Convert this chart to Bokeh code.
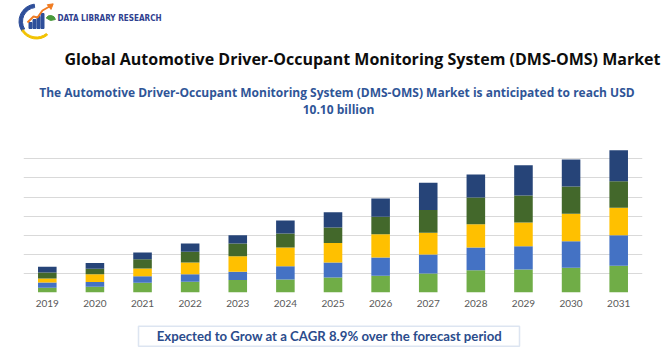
from bokeh.plotting import figure
from bokeh.layouts import column, row
from bokeh.models import Range1d, Label, BoxAnnotation, SingleIntervalTicker, ColumnDataSource
from bokeh.embed import file_html
from bokeh.resources import INLINE

# ---------------- data ----------------
years = ["2019", "2020", "2021", "2022", "2023", "2024", "2025",
         "2026", "2027", "2028", "2029", "2030", "2031"]
seg_green = [0.33, 0.40, 0.69, 0.76, 0.88, 0.92, 1.06, 1.18, 1.35, 1.58, 1.63, 1.75, 1.89]
seg_blue = [0.38, 0.35, 0.47, 0.54, 0.59, 0.95, 1.06, 1.30, 1.35, 1.61, 1.66, 1.89, 2.18]
seg_yellow = [0.28, 0.54, 0.54, 0.83, 1.11, 1.32, 1.40, 1.66, 1.54, 1.66, 1.68, 1.94, 1.94]
seg_dkgreen = [0.43, 0.40, 0.66, 0.76, 0.90, 0.99, 1.09, 1.23, 1.61, 1.89, 1.92, 1.94, 1.89]
seg_navy = [0.40, 0.40, 0.47, 0.59, 0.59, 0.92, 1.09, 1.30, 1.94, 1.63, 2.13, 1.92, 2.20]
series_names = ["s1", "s2", "s3", "s4", "s5"]
series_colors = ["#70ad47", "#4472c4", "#ffc000", "#43682b", "#264478"]

title_text = "Global Automotive Driver-Occupant Monitoring System (DMS-OMS) Market"
subtitle_1 = "The Automotive Driver-Occupant Monitoring System (DMS-OMS)  Market is anticipated to reach USD"
subtitle_2 = "10.10 billion"
footer_text = "Expected to Grow at a CAGR 8.9% over the forecast period"
brand_text = "DATA LIBRARY RESEARCH"

W = 670
FONT = "Lato"
HFONT = "Open Sans"


def blank(height, y0, y1):
    f = figure(width=W, height=height, x_range=Range1d(0, W), y_range=Range1d(y1, y0),
               output_backend="svg", toolbar_location=None, min_border=0,
               x_axis_location=None, y_axis_location=None)
    f.grid.visible = False
    f.outline_line_color = None
    return f


# ---------------- header ----------------
head = blank(140, 0, 140)
# logo ring
head.annular_wedge(x=36, y=21, inner_radius=14, outer_radius=17.5, start_angle=1.7, end_angle=3.7,
                   color="#2f4f9a")
head.annular_wedge(x=36, y=21, inner_radius=15.5, outer_radius=17.5, start_angle=3.7, end_angle=5.4,
                   color="#f2c200")
# logo bars
head.vbar(x=[30, 34, 38, 42], bottom=[28, 28, 28, 28], top=[22, 19, 16, 13], width=3, color="#2f4f9a")
head.line(x=[27, 33, 37, 42, 49], y=[22, 16, 17, 10, 6], line_color="#f07c22", line_width=2)
head.scatter(x=[50], y=[5.5], marker="triangle", size=6, angle=-0.9, color="#f07c22")
head.wedge(x=[50], y=[20], radius=5, start_angle=0.2, end_angle=2.6, color="#4a9a3c")
head.add_layout(Label(x=57, y=17, text=brand_text, text_font="DejaVu Sans Condensed",
                     text_font_style="bold", text_font_size="8.1px", text_color="#2f3f8f",
                     text_baseline="alphabetic"))
head.add_layout(Label(x=362, y=58.3, text=title_text, text_font=HFONT, text_font_style="bold",
                      text_font_size="16px", text_color="#0d0d0d", text_align="center",
                      text_baseline="alphabetic"))
head.add_layout(Label(x=338, y=92, text=subtitle_1, text_font=HFONT, text_font_style="bold",
                      text_font_size="12px", text_color="#2f5597", text_align="center",
                      text_baseline="alphabetic"))
head.add_layout(Label(x=338, y=109, text=subtitle_2, text_font=HFONT, text_font_style="bold",
                      text_font_size="12px", text_color="#2f5597", text_align="center",
                      text_baseline="alphabetic"))

# ---------------- chart ----------------
GRID_STEP = 1.355
src = ColumnDataSource(dict(year=years, s1=seg_green, s2=seg_blue, s3=seg_yellow,
                            s4=seg_dkgreen, s5=seg_navy))
p = figure(width=W, height=175, x_range=years, y_range=Range1d(0, 10.43),
           output_backend="svg", toolbar_location=None,
           min_border_left=23, min_border_right=28, min_border_top=5, min_border_bottom=23)
p.vbar_stack(series_names, x="year", width=0.39, color=series_colors, source=src, line_color=None)
p.yaxis.visible = False
p.ygrid.ticker = SingleIntervalTicker(interval=GRID_STEP)
p.ygrid.grid_line_color = "#d9d9d9"
p.xgrid.grid_line_color = None
p.xaxis.axis_line_color = None
p.xaxis.major_tick_line_color = None
p.xaxis.minor_tick_line_color = None
p.xaxis.major_tick_out = 0
p.xaxis.major_label_standoff = 7
p.xaxis.major_label_text_font = FONT
p.xaxis.major_label_text_font_size = "10px"
p.xaxis.major_label_text_color = "#595959"
p.outline_line_color = None

# ---------------- footer ----------------
foot = blank(35, 315, 350)
foot.add_layout(BoxAnnotation(left=138, right=519, top=325.7, bottom=345.7, fill_color="white",
                              fill_alpha=1, line_color="#8ea9cf", line_width=1.5))
foot.add_layout(Label(x=329, y=335, text=footer_text, text_font=FONT, text_font_style="bold",
                      text_font_size="13.2px", text_color="#2b4c8c", text_align="center",
                      text_baseline="alphabetic"))

layout = column(row(head), row(p), row(foot), spacing=0)
open("out.html", "w").write(file_html(layout, INLINE))
